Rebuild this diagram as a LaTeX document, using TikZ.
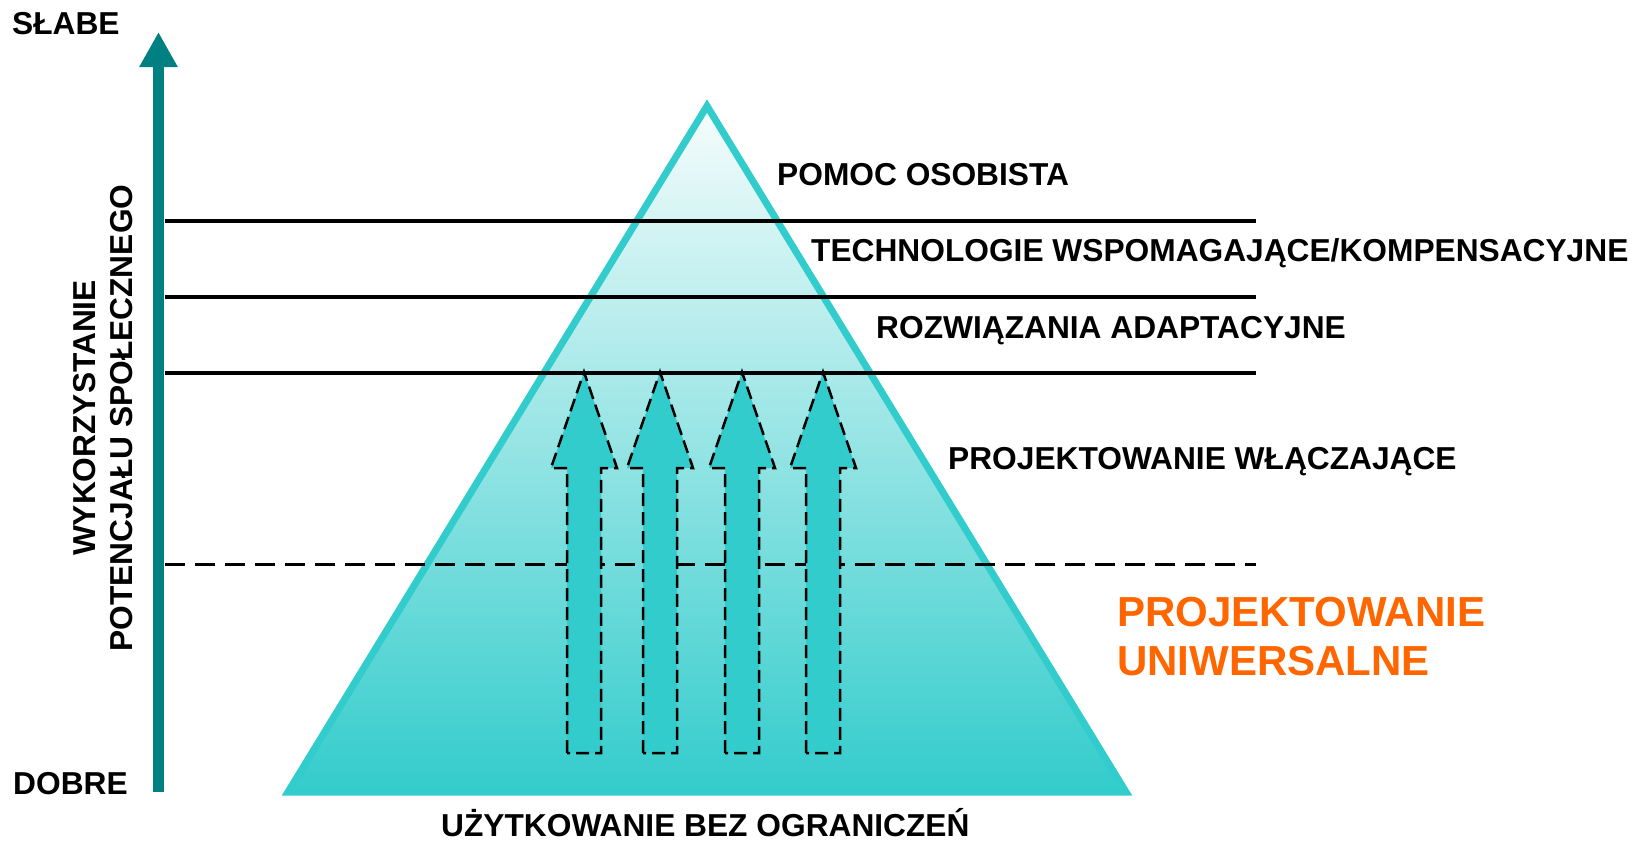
\documentclass[tikz,border=0pt]{standalone}
\usepackage{fontspec}
\setmainfont{Liberation Sans}
\usetikzlibrary{arrows.meta}
\definecolor{turq}{RGB}{51,204,204}
\definecolor{paleturq}{RGB}{246,252,252}
\definecolor{axisteal}{RGB}{0,128,128}
\definecolor{udorange}{RGB}{255,102,0}

\begin{document}
\begin{tikzpicture}[x=1pt,y=-1pt]
    \tikzstyle{every node}=[inner sep=0pt,font=\fontsize{31.7}{37}\selectfont\bfseries];
    \tikzstyle{level}=[anchor=base west];
    \tikzstyle{divider}=[line width=3.5pt];
    \tikzstyle{uparrow}=[fill=turq,draw=black,line width=2.5pt,dash pattern=on 13pt off 6pt];
    \useasboundingbox (0,0) rectangle (1647,841);

    \coordinate (apex) at (707,106);
    \coordinate (baseR) at (1126,792);
    \coordinate (baseL) at (288,792);
    \draw[turq,line width=7pt,top color=paleturq,bottom color=turq] (apex) -- (baseR) -- (baseL) -- cycle;

    \coordinate (axbot) at (158.5,792);
    \coordinate (axtop) at (158.5,32);
    \draw[axisteal,line width=11.5pt,-{Triangle[length=35pt,width=36pt]}] (axbot) -- (axtop);

    \foreach \ly [count=\i] in {221,297,373} {
        \coordinate (left\i) at (165,\ly);
        \coordinate (right\i) at (1256,\ly);
        \draw[divider] (left\i) -- (right\i);
    }
    \coordinate (left4) at (165,564);
    \coordinate (right4) at (1256,564);
    \draw[line width=3pt,dash pattern=on 20pt off 10pt] (left4) -- (right4);

    \foreach \cx in {584,660,742,823}
        \draw[uparrow] ({\cx-17},753) -- ({\cx-17},468) -- ({\cx-33},468) -- (\cx,372)
            -- ({\cx+33},468) -- ({\cx+17},468) -- ({\cx+17},753) -- cycle;

    \node[level] (slabe) at (12,34) {SŁABE};
    \node[level] (dobre) at (13,794) {DOBRE};
    \node[rotate=90,align=center] (axlabel) at (103,418) {WYKORZYSTANIE\\POTENCJAŁU SPOŁECZNEGO};
    \node[level] (pomoc) at (777,185) {POMOC OSOBISTA};
    \node[level] (techn) at (811,261) {TECHNOLOGIE WSPOMAGAJĄCE/KOMPENSACYJNE};
    \node[level] (adapt) at (876,338) {ROZWIĄZANIA ADAPTACYJNE};
    \node[level] (inclus) at (948,469) {PROJEKTOWANIE WŁĄCZAJĄCE};
    \node[level,text=udorange,font=\fontsize{42}{48}\selectfont\bfseries] (univA) at (1117,626) {PROJEKTOWANIE};
    \node[level,text=udorange,font=\fontsize{42}{48}\selectfont\bfseries] (univB) at (1117,675) {UNIWERSALNE};
    \node[level] (usage) at (441,836) {UŻYTKOWANIE BEZ OGRANICZEŃ};
\end{tikzpicture}
\end{document}
